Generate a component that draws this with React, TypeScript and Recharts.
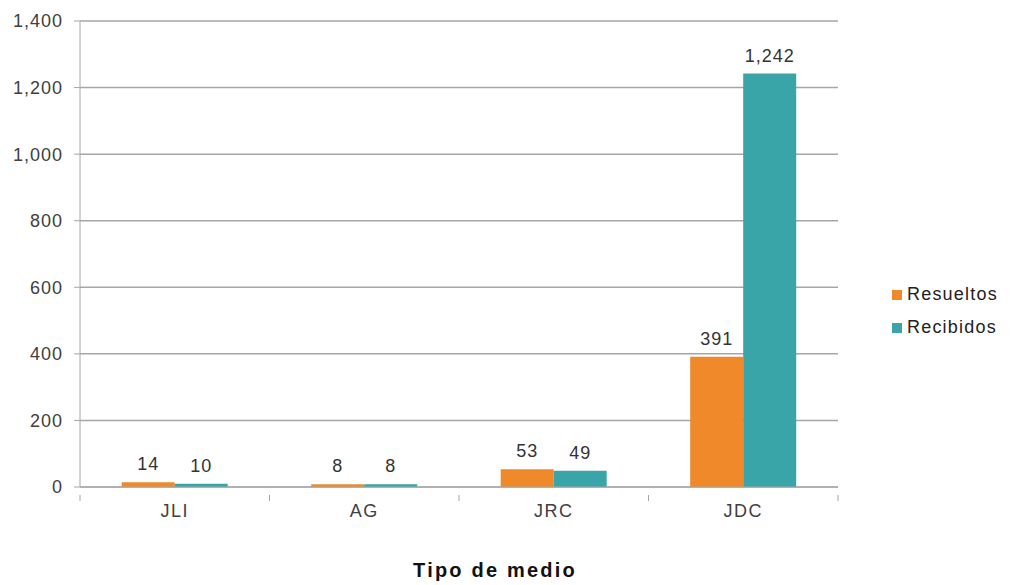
import { BarChart, Bar, XAxis, YAxis, CartesianGrid, Legend, LabelList } from "recharts"

const categories = ["JLI", "AG", "JRC", "JDC"]
const resueltos = [14, 8, 53, 391]
const recibidos = [10, 8, 49, 1242]
const yTicks = [0, 200, 400, 600, 800, 1000, 1200, 1400]

const series = [
  { key: "resueltos", name: "Resueltos", color: "#f0892a" },
  { key: "recibidos", name: "Recibidos", color: "#3aa5a8" },
]

const data = categories.map((tipo, i) => ({
  tipo,
  resueltos: resueltos[i],
  recibidos: recibidos[i],
}))

const fmt = (v: number) => v.toLocaleString("en-US")
const gray = "#a6a6a6"
const font = "Liberation Sans, Arial, sans-serif"

// eslint-disable-next-line @typescript-eslint/no-explicit-any
function CategoryTick(props: any) {
  const { x, y, payload, index } = props
  const half = payload.offset ?? 0
  return (
    <g>
      {index === 0 && <line x1={x - half} x2={x - half} y1={y} y2={y + 6} stroke={gray} />}
      <line x1={x + half} x2={x + half} y1={y} y2={y + 6} stroke={gray} />
      <text
        x={x}
        y={y + 22}
        textAnchor="middle"
        fill="#404040"
        fontSize={18}
        letterSpacing={1.5}
        fontFamily={font}
      >
        {payload.value}
      </text>
    </g>
  )
}

function LegendBox() {
  return (
    <div style={{ fontFamily: font, fontSize: 18, letterSpacing: 1.2, color: "#222" }}>
      {series.map((s) => (
        <div key={s.key} style={{ display: "flex", alignItems: "center", height: 33 }}>
          <span style={{ width: 10, height: 10, background: s.color, marginRight: 5 }} />
          {s.name}
        </div>
      ))}
    </div>
  )
}

export default function App() {
  return (
    <div style={{ position: "absolute", left: 0, top: 0, background: "#fff" }}>
      <BarChart
        width={1011}
        height={585}
        data={data}
        margin={{ top: 21, right: 173, bottom: 0, left: 0 }}
        barCategoryGap="22%"
        barGap={0}
      >
        <CartesianGrid vertical={false} stroke={gray} strokeWidth={1.5} />
        <XAxis
          dataKey="tipo"
          height={98}
          stroke={gray}
          tickLine={false}
          tick={<CategoryTick />}
          label={{
            value: "Tipo de medio",
            position: "insideBottom",
            offset: 8,
            dx: 36,
            fill: "#111",
            fontSize: 20,
            fontWeight: "bold",
            letterSpacing: 2.2,
            fontFamily: font,
          }}
        />
        <YAxis
          width={80}
          domain={[0, 1400]}
          ticks={yTicks}
          interval={0}
          stroke={gray}
          tickSize={6}
          tickMargin={11}
          tickFormatter={fmt}
          tick={{ fill: "#404040", fontSize: 18, letterSpacing: 1, fontFamily: font }}
        />
        <Legend
          layout="horizontal"
          verticalAlign="middle"
          align="center"
          content={<LegendBox />}
          wrapperStyle={{ top: 278, left: 892, width: 119 }}
        />
        {series.map((s) => (
          <Bar key={s.key} dataKey={s.key} name={s.name} fill={s.color} isAnimationActive={false}>
            <LabelList
              dataKey={s.key}
              position="top"
              offset={12}
              formatter={fmt}
              fill="#333"
              fontSize={18}
              letterSpacing={1}
              fontFamily={font}
            />
          </Bar>
        ))}
      </BarChart>
    </div>
  )
}
